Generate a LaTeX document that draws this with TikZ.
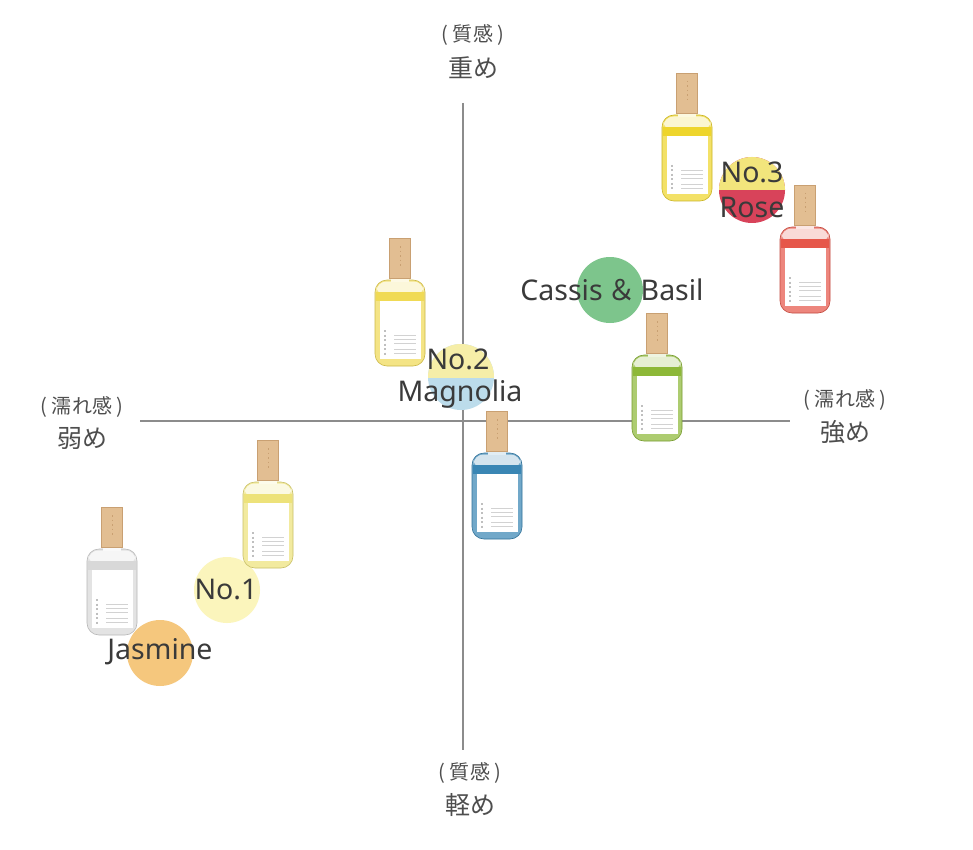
\documentclass[tikz,border=0pt]{standalone}
\usepackage{fontspec}
\setmainfont{Noto Sans}
\newfontfamily\jp{Noto Sans CJK JP}
\usetikzlibrary{positioning}

\definecolor{ink}{HTML}{3A3A3A}
\definecolor{axisgray}{HTML}{8C8C8C}
\definecolor{cap}{HTML}{E2BE92}
\definecolor{capdark}{HTML}{C9A072}
\definecolor{lemon}{HTML}{EED52C}
\definecolor{citrus}{HTML}{F0DA55}
\definecolor{pale}{HTML}{EDE27A}
\definecolor{scarlet}{HTML}{E6574A}
\definecolor{leaf}{HTML}{8DB838}
\definecolor{sea}{HTML}{3A86B4}
\definecolor{milk}{HTML}{D8D8D8}
\definecolor{noyellow}{HTML}{F2E57C}
\definecolor{rosered}{HTML}{D8435A}
\definecolor{basil}{HTML}{7DC58C}
\definecolor{magyellow}{HTML}{F6EEA8}
\definecolor{magblue}{HTML}{BCDCEB}
\definecolor{oneyellow}{HTML}{FBF5BC}
\definecolor{jasmine}{HTML}{F5C77D}

% bottle: x, y of cap top, liquid colour
\newcommand\bottle[3]{%
  \begin{scope}[shift={(#1,#2)}]
    \filldraw[fill=#3!72!white, draw=#3!85!black, line width=0.6pt, rounded corners=12pt] (-25,42) rectangle (25,128);
    \fill[#3!22!white, rounded corners=10pt] (-23.5,43.5) rectangle (23.5,58);
    \fill[#3] (-24.4,54) rectangle (24.4,63);
    \fill[white] (-20,63) rectangle (21,121);
    \draw[gray!50, line width=1.3pt, dash pattern=on 2pt off 2.5pt] (-15,92) -- (-15,117);
    \foreach \ly in {97,101,105,111,115} \draw[gray!35, line width=0.6pt] (-6,\ly) -- (16,\ly);
    \fill[#3!15!white] (-9,40) rectangle (9,44);
    \filldraw[fill=cap, draw=capdark, line width=0.5pt] (-10.5,0) rectangle (10.5,40);
    \draw[capdark, line width=0.8pt, dash pattern=on 1.5pt off 3pt] (0,8) -- (0,30);
  \end{scope}}

\begin{document}
\begin{tikzpicture}[x=1pt, y=-1pt,
  axisline/.style={draw=axisgray, line width=1.1pt},
  dot/.style={circle, minimum size=66pt, inner sep=0pt},
  perfume/.style={text=ink, font=\fontsize{28.5}{30}\selectfont, inner sep=0pt},
  axisq/.style={text=ink!90, font=\jp\fontsize{20}{22}\selectfont, inner sep=0pt},
  axisw/.style={text=ink!90, font=\jp\fontsize{25}{27}\selectfont, inner sep=0pt}]
  \useasboundingbox[fill=white] (0,0) rectangle (973,850);

  % axes
  \coordinate (top) at (463,103);
  \coordinate (bottom) at (463,750);
  \coordinate (left) at (140,421);
  \coordinate (right) at (790,421);
  \draw[axisline] (top) -- (bottom);
  \draw[axisline] (left) -- (right);

  \node[axisq] (heavyq) at (473,35) {( 質感 )};
  \node[axisw] (heavy) at (473,68) {重め};
  \node[axisq] (lightq) at (470,773) {( 質感 )};
  \node[axisw] (light) at (470,805) {軽め};
  \node[axisq] (weakq) at (82,407) {( 濡れ感 )};
  \node[axisw] (weak) at (82,438) {弱め};
  \node[axisq] (strongq) at (845,400) {( 濡れ感 )};
  \node[axisw] (strong) at (845,432) {強め};

  % circles
  \node[dot, fill=rosered] (no3) at (752,190) {};
  \begin{scope}
    \clip (712,150) rectangle (792,190);
    \fill[noyellow] (no3) circle[radius=33];
  \end{scope}
  \node[dot, fill=basil] (cassis) at (610,290) {};
  \node[dot, fill=magblue] (no2) at (461,377) {};
  \begin{scope}
    \clip (421,337) rectangle (501,377);
    \fill[magyellow] (no2) circle[radius=33];
  \end{scope}
  \node[dot, fill=oneyellow] (no1) at (227,590) {};
  \node[dot, fill=jasmine] (jas) at (160,653) {};

  % bottles
  \bottle{687}{73}{lemon}
  \bottle{805}{185}{scarlet}
  \bottle{400}{238}{citrus}
  \bottle{657}{313}{leaf}
  \bottle{497}{411}{sea}
  \bottle{268}{440}{pale}
  \bottle{112}{507}{milk}

  % names
  \node[perfume] (no3a) at (752,172) {No.3};
  \node[perfume] (no3b) at (752,207) {Rose};
  \node[perfume] (cassist) at (612,290) {Cassis\,{\jp ＆}\,Basil};
  \node[perfume] (no2a) at (458,359) {No.2};
  \node[perfume] (no2b) at (460,394) {Magnolia};
  \node[perfume] (no1t) at (226,590) {No.1};
  \node[perfume] (jast) at (160,652) {Jasmine};
\end{tikzpicture}
\end{document}
